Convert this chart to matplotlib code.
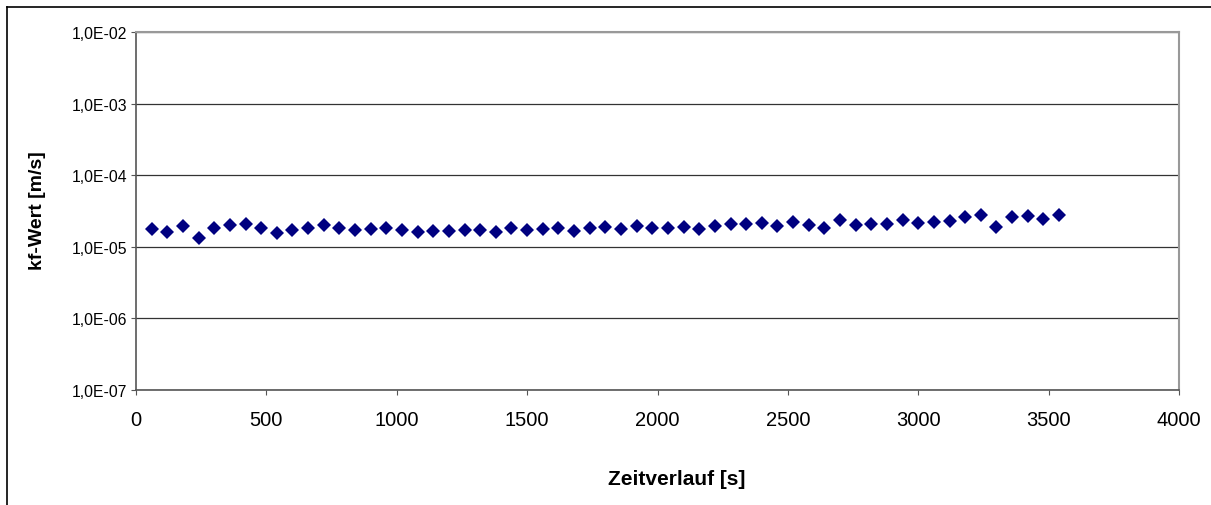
import matplotlib
matplotlib.use("Agg")
import matplotlib.pyplot as plt
from matplotlib.ticker import FuncFormatter, NullLocator, FixedLocator
from matplotlib.lines import Line2D

zeit = [60, 120, 180, 240, 300, 360, 420, 480, 540, 600,
        660, 720, 780, 840, 900, 960, 1020, 1080, 1140, 1200,
        1260, 1320, 1380, 1440, 1500, 1560, 1620, 1680, 1740, 1800,
        1860, 1920, 1980, 2040, 2100, 2160, 2220, 2280, 2340, 2400,
        2460, 2520, 2580, 2640, 2700, 2760, 2820, 2880, 2940, 3000,
        3060, 3120, 3180, 3240, 3300, 3360, 3420, 3480, 3540]
kf_wert = [1.77e-5, 1.63e-5, 1.95e-5, 1.34e-5, 1.81e-5, 2.04e-5, 2.09e-5, 1.85e-5, 1.56e-5, 1.70e-5,
           1.85e-5, 2.00e-5, 1.81e-5, 1.72e-5, 1.79e-5, 1.83e-5, 1.72e-5, 1.63e-5, 1.68e-5, 1.66e-5,
           1.72e-5, 1.74e-5, 1.63e-5, 1.81e-5, 1.72e-5, 1.77e-5, 1.81e-5, 1.66e-5, 1.81e-5, 1.89e-5,
           1.79e-5, 1.93e-5, 1.85e-5, 1.85e-5, 1.89e-5, 1.77e-5, 1.98e-5, 2.06e-5, 2.11e-5, 2.15e-5,
           1.95e-5, 2.25e-5, 2.04e-5, 1.85e-5, 2.40e-5, 2.02e-5, 2.06e-5, 2.09e-5, 2.37e-5, 2.18e-5,
           2.25e-5, 2.32e-5, 2.62e-5, 2.76e-5, 1.91e-5, 2.59e-5, 2.65e-5, 2.45e-5, 2.82e-5]

y_ticks = [1e-7, 1e-6, 1e-5, 1e-4, 1e-3, 1e-2]
x_ticks = [0, 500, 1000, 1500, 2000, 2500, 3000, 3500, 4000]

plt.rcParams['font.family'] = ['Liberation Sans', 'DejaVu Sans']


def excel_fmt(v, pos):
    # Excel style scientific label, e.g. 1,0E-05
    mant, exp = f"{v:.1E}".split("E")
    return f"{mant.replace('.', ',')}E{int(exp):+03d}".replace("+", "")


fig = plt.figure(figsize=(12.11, 5.06), dpi=100)
ax = fig.add_axes([0.1123, 0.2273, 0.8613, 0.7075])

ax.plot(zeit, kf_wert, linestyle='none', marker='D', markersize=7.6,
        color='#000080', markeredgewidth=0)

ax.set_yscale('log')
ax.set_ylim(1e-7, 1e-2)
ax.set_xlim(0, 4000)
ax.yaxis.set_major_locator(FixedLocator(y_ticks))
ax.yaxis.set_minor_locator(NullLocator())
ax.yaxis.set_major_formatter(FuncFormatter(excel_fmt))
ax.set_xticks(x_ticks)

ax.grid(axis='y', color='#333333', linewidth=0.9)
ax.set_axisbelow(True)
for side in ['top', 'right']:
    ax.spines[side].set_color('#999999')
    ax.spines[side].set_linewidth(1.5)
for side in ['left', 'bottom']:
    ax.spines[side].set_color('#555555')
    ax.spines[side].set_linewidth(1.2)

ax.tick_params(axis='y', labelsize=11.3, length=3.6, color='#555555', pad=2.5)
ax.tick_params(axis='x', labelsize=14.5, length=3.6, color='#555555', pad=10.5)

ax.set_ylabel('kf-Wert [m/s]', fontsize=14, fontweight='bold')
ax.set_xlabel('Zeitverlauf [s]', fontsize=15, fontweight='bold')
ax.yaxis.set_label_coords(-0.0863, 0.503)
ax.xaxis.set_label_coords(0.518, -0.2207)

# outer chart border (cut off at right and bottom in the reference)
fig.add_artist(Line2D([7 / 1211, 7 / 1211], [0, 1 - 8 / 506], color='black', linewidth=1.2))
fig.add_artist(Line2D([7 / 1211, 1], [1 - 8 / 506, 1 - 8 / 506], color='black', linewidth=1.2))

fig.savefig('out.png', dpi=100)
